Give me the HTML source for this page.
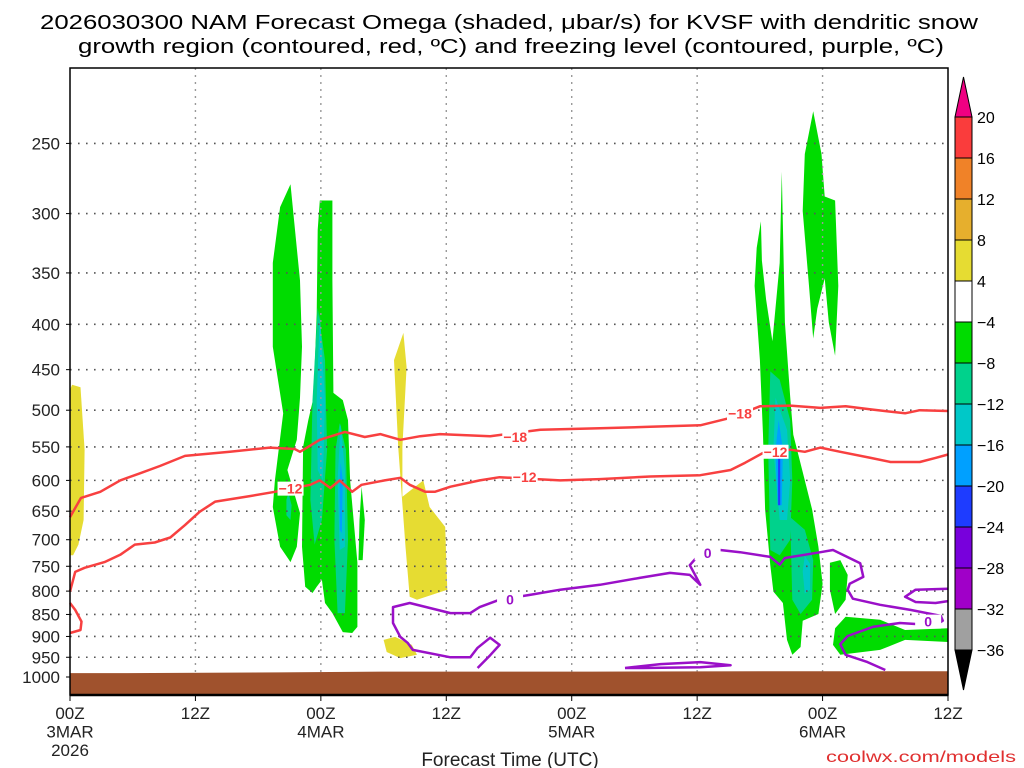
<!DOCTYPE html>
<html><head><meta charset="utf-8"><style>
html,body{margin:0;padding:0;background:#fff;}
svg{display:block;font-family:"Liberation Sans",sans-serif;}
</style></head><body>
<svg id="chart" width="1024" height="768" viewBox="0 0 1024 768" xmlns="http://www.w3.org/2000/svg">
<rect x="0" y="0" width="1024" height="768" fill="#fff"/>
<g font-size="20" fill="#000">
<text x="40" y="29" textLength="938" lengthAdjust="spacingAndGlyphs">2026030300 NAM Forecast Omega (shaded, μbar/s) for KVSF with dendritic snow</text>
<text x="78" y="53" textLength="866" lengthAdjust="spacingAndGlyphs">growth region (contoured, red, ºC) and freezing level (contoured, purple, ºC)</text>
</g>
<g id="shade"></g>
<g id="grid"></g>
<g id="terrain"></g>
<g id="contours"></g>
<rect x="70" y="68" width="878" height="627" fill="none" stroke="#000" stroke-width="1.5"/>
<line x1="70" y1="695" x2="948" y2="695" stroke="#000" stroke-width="2.5"/>
<g id="yaxis" font-size="17" fill="#222"></g>
<g id="xaxis" font-size="17" fill="#222"></g>
<text x="510" y="766" text-anchor="middle" font-size="19" fill="#222">Forecast Time (UTC)</text>
<text x="1016" y="762" text-anchor="end" font-size="16" fill="#e03030" textLength="190" lengthAdjust="spacingAndGlyphs">coolwx.com/models</text>
<g id="cbar" font-size="16" fill="#000"></g>
</svg>
<script>
const NS="http://www.w3.org/2000/svg";
const pressureTicks=[250,300,350,400,450,500,550,600,650,700,750,800,850,900,950,1000];
const timeTicks=[0,12,24,36,48,60,72,84];
const timeLabels1=["00Z","12Z","00Z","12Z","00Z","12Z","00Z","12Z"];
const timeLabels2=["3MAR","","4MAR","","5MAR","","6MAR",""];
const timeLabels3=["2026","","","","","","",""];
const cbarLevels=[20,16,12,8,4,-4,-8,-12,-16,-20,-24,-28,-32,-36];
const cbarColors=["#fa3c3c","#f08228","#e6af2d","#e6dc32","#ffffff","#00dc00","#00d28c","#00c8c8","#00a0ff","#1e3cff","#7800dc","#a000c8","#a0a0a0"];
const terrainP=[[0,990],[5,990],[20,988],[30,986],[50,986],[70,985],[84,985]];
const minus18=[[0,660],[1.05,628],[2.9,618],[4.8,600],[6.7,589],[8.6,578],[11,563],[15.3,557],[19.1,551],[21.5,553],[22,557],[23.9,540],[26.3,529],[28.2,536],[29.7,532],[31.6,540],[33.5,535],[35.4,532],[40.2,535],[45,526],[50.7,524],[55.5,522],[60.3,520],[63.2,510],[66,495],[68.9,494],[71.8,497],[74.2,495],[76.6,499],[79.9,504],[81.3,500],[84,501]];
const minus12=[[0,801],[0.5,761],[1.4,753],[3.3,742],[4.8,728],[6.2,709],[8.1,705],[9.6,696],[11,674],[12.4,651],[13.9,634],[17.2,625],[19.6,618],[23,607],[23.9,600],[24.9,612],[25.8,600],[27,618],[27.9,607],[30.1,600],[31.6,596],[32.5,607],[34,618],[34.9,618],[36.4,610],[39.2,600],[41.1,595],[46.9,600],[50.7,598],[55.5,594],[60.3,592],[63.2,584],[64.6,573],[66.5,557],[68.9,554],[70.3,557],[71.8,551],[73.7,557],[76.6,566],[78.5,572],[81.3,572],[82.8,566],[84,561]];
const minus12b=[[0,825],[0.5,840],[1.1,866],[1,885],[0,892]];
const labels18=[[42.6,536],[64.1,504]];
const labels12=[[21.1,613],[43.5,595],[67.5,557]];
const freeze=[[39,977],[40.2,945],[41.1,920],[40.2,903],[39,927],[38.3,950],[36.4,950],[32.8,932],[32.3,915],[31.6,901],[30.9,869],[30.9,834],[32.5,825],[36.4,847],[38.3,847],[39.2,834],[41.1,818],[44,808],[46.9,797],[50.7,787],[54.5,773],[57.4,763],[59.3,767],[60.3,787],[59.8,767],[59.3,748],[60.3,725],[62.2,719],[64.1,723],[67,732],[67.9,747],[68.4,734],[71.8,723],[73,719],[75.6,744],[75.9,771],[74.6,785],[74.4,797],[74.9,816],[77.5,829],[80.4,840],[83.3,853],[83.5,864],[82.8,874],[79.4,869],[76.8,878],[74.4,899],[73.7,918],[74.2,944],[76.3,962],[78,982]];
const freezeB=[[84,795],[80.9,797],[79.9,812],[80.9,823],[82.8,825],[84,821]];
const freezeC=[[53.1,977],[56.5,967],[60.3,962],[63.2,970],[60.3,975],[54.8,977],[53.1,977]];
const labels0=[[42.1,818],[61,725],[82.1,866]];
// shaded omega regions [hour, hPa]
const greenL1=[[21.1,278],[22,357],[22.2,424],[22,484],[21.7,540],[20.8,584],[22,653],[21.7,713],[21.1,742],[20.1,713],[19.4,643],[19.6,600],[20.4,504],[19.4,424],[19.4,341],[20.1,295]];
const greenL2=[[24.1,290],[25.1,290],[25.1,357],[25.2,478],[26.1,487],[26.6,513],[26.8,600],[27.5,743],[27.5,878],[27,892],[26.1,890],[25.1,847],[24.4,825],[24.1,777],[23.6,791],[23.2,804],[22.5,791],[22.2,713],[22.3,550],[22.8,513],[23.3,484],[23.6,389],[23.7,313],[23.9,290]];
const greenSliver=[[27.9,610],[28.2,665],[28,738],[27.6,738],[27.7,665]];
const tealL1=[[20.9,620],[21.2,640],[21.1,665],[20.7,657],[20.7,631]];
const tealL2a=[[23.7,383],[24.4,439],[24.6,554],[24.1,665],[23.4,709],[23,631],[23.2,487]];
const tealL2b=[[25.8,517],[26.4,554],[26.6,700],[26.3,847],[25.6,847],[25.3,700],[25.4,554]];
const cyanL2a=[[23.9,389],[24.4,487],[24.2,600],[23.7,584],[23.6,487]];
const cyanL2b=[[25.9,517],[26.3,584],[26.3,713],[25.8,719],[25.6,600]];
const blueL2=[[25.9,573],[26.1,600],[26,688],[25.8,682],[25.8,600]];
const yellowY0=[[0.2,468],[1,471],[1.4,554],[1.3,665],[0.8,709],[0.3,729],[0,729],[0,474]];
const yellowY1=[[31.9,409],[32.2,447],[31.8,550],[31.8,626],[33.8,600],[34.4,643],[35.9,677],[36.1,797],[33.2,818],[32.5,812],[32.1,713],[31.4,550],[31,439]];
const yellowY2=[[30,908],[31.1,901],[32.7,920],[33.2,944],[31.6,952],[30.3,937]];
const greenR1=[[66.1,306],[65.7,328],[65.5,362],[66,439],[66.3,533],[66.5,647],[67,748],[67.3,801],[68.2,825],[68.6,908],[69.1,944],[69.9,925],[70.1,864],[71.6,849],[72,785],[71.6,713],[71,647],[70.1,587],[69.2,533],[68.9,483],[68.4,398],[68.1,269],[67.9,341],[67.2,418],[66.6,375],[66.2,339]];
const greenR2=[[71.1,230],[71.9,257],[72.2,287],[73.2,290],[73.5,362],[73.2,434],[72.6,398],[72.2,355],[71.5,384],[71.1,415],[70.7,362],[70.1,298],[70.3,257]];
const greenR3=[[72.7,743],[73.7,738],[74.4,767],[74.2,818],[73.2,849],[72.7,797]];
const greenR4=[[73.2,881],[74.2,855],[77.5,862],[79.9,885],[84,881],[84,913],[79.9,908],[77.5,932],[73.7,944],[73,920]];
const tealR1=[[67,452],[67.9,462],[68.9,513],[69.1,600],[68.9,700],[67.9,729],[67,719],[66.8,554]];
const tealR2=[[68.9,660],[70.3,682],[71.1,738],[71,818],[69.9,849],[69.1,818]];
const cyanR1=[[67.5,484],[68.6,526],[68.9,600],[68.6,665],[67.9,665],[67.3,554]];
const cyanR2=[[70.3,730],[70.8,745],[70.8,797],[70.3,805],[70.1,760]];
const blueR=[[67.8,513],[68.2,554],[68.1,640],[67.7,640],[67.5,554]];
const darkBlueR=[[67.75,560],[67.95,560],[67.95,640],[67.75,640]];

function xS(h){return 70+h*(878/84);}
function yS(p){return 677-384.9*Math.log(1000/p);}
function pts(arr){return arr.map(d=>xS(d[0]).toFixed(1)+","+yS(d[1]).toFixed(1)).join(" ");}
function mk(tag,attrs,parent){const e=document.createElementNS(NS,tag);for(const k in attrs)e.setAttribute(k,attrs[k]);parent.appendChild(e);return e;}

const shade=document.getElementById("shade");
function poly(arr,color,name){
  const e=mk("polygon",{points:pts(arr),fill:color},shade);
  
  
}
poly(yellowY0,"#e6dc32","yellow-region-left");
poly(yellowY1,"#e6dc32","yellow-region-mid");
poly(yellowY2,"#e6dc32","yellow-region-low");
poly(greenL1,"#00dc00","green-region-l1");
poly(greenL2,"#00dc00","green-region-l2");
poly(greenSliver,"#00dc00","green-region-sliver");
poly(tealL1,"#00d28c","teal-region-l1");
poly(tealL2a,"#00d28c","teal-region-l2a");
poly(tealL2b,"#00d28c","teal-region-l2b");
poly(cyanL2a,"#00c8c8","cyan-region-l2a");
poly(cyanL2b,"#00c8c8","cyan-region-l2b");
poly(blueL2,"#00a0ff","blue-region-l2");
poly(greenR1,"#00dc00","green-region-r1");
poly(greenR2,"#00dc00","green-region-r2");
poly(greenR3,"#00dc00","green-region-r3");
poly(greenR4,"#00dc00","green-region-r4");
poly(tealR1,"#00d28c","teal-region-r1");
poly(tealR2,"#00d28c","teal-region-r2");
poly(cyanR1,"#00c8c8","cyan-region-r1");
poly(cyanR2,"#00c8c8","cyan-region-r2");
poly(blueR,"#00a0ff","blue-region-r");
poly(darkBlueR,"#1e3cff","darkblue-region-r");

// grid
const grid=document.getElementById("grid");
pressureTicks.forEach(p=>{
  const l=mk("line",{x1:70,x2:948,y1:yS(p),y2:yS(p),stroke:"#555","stroke-width":1.6,"stroke-dasharray":"1.6 6.4"},grid);
  
  
});
timeTicks.slice(1,-1).forEach(h=>{
  const l=mk("line",{x1:xS(h),x2:xS(h),y1:68,y2:695,stroke:"#999","stroke-width":1.4,"stroke-dasharray":"2 5"},grid);
  
  
});

// terrain
const terr=document.getElementById("terrain");
const tp=terrainP.map(d=>xS(d[0]).toFixed(1)+","+yS(d[1]).toFixed(1));
const te=mk("polygon",{points:tp.join(" ")+" 948,695 70,695",fill:"#a0522d"},terr);



// contours
const cont=document.getElementById("contours");
function line(arr,color,name){
  const e=mk("polyline",{points:pts(arr),fill:"none",stroke:color,"stroke-width":2.5,"stroke-linejoin":"round"},cont);
  
  
}
function lab(arr,txt,color,name){
  arr.forEach(d=>{
    const x=xS(d[0]),y=yS(d[1]);
    const r=mk("rect",{x:x-13,y:y-7,width:26,height:14,fill:"#fff"},cont);
    const t=mk("text",{x:x,y:y+5,"text-anchor":"middle","font-size":14,"font-weight":"bold",fill:color},cont);
    t.textContent=txt;
    
    
  });
}
line(minus18,"#f84040","contour-minus18");
line(minus12,"#f84040","contour-minus12");
line(minus12b,"#f84040","contour-minus12-left");
line(freeze,"#9a10c8","freezing-level-contour");
line(freezeB,"#9a10c8","freezing-level-contour-east");
line(freezeC,"#9a10c8","freezing-level-contour-surface");
lab(labels18,"−18","#f84040","contour-label-minus18");
lab(labels12,"−12","#f84040","contour-label-minus12");
lab(labels0,"0","#9a10c8","contour-label-zero");

// y axis
const ya=document.getElementById("yaxis");
pressureTicks.forEach(p=>{
  const t=mk("text",{x:60,y:yS(p)+6,"text-anchor":"end"},ya);
  t.textContent=p;
  
  
  mk("line",{x1:66,x2:70,y1:yS(p),y2:yS(p),stroke:"#000","stroke-width":1},ya);
});
// x axis
const xa=document.getElementById("xaxis");
timeTicks.forEach((h,i)=>{
  const x=xS(h);
  mk("line",{x1:x,x2:x,y1:695,y2:701,stroke:"#000","stroke-width":1},xa);
  [timeLabels1[i],timeLabels2[i],timeLabels3[i]].forEach((s,j)=>{
    if(!s)return;
    const t=mk("text",{x:x,y:719+j*18.5,"text-anchor":"middle"},xa);
    t.textContent=s;
    
    
  });
});

// colorbar
const cb=document.getElementById("cbar");
const cx0=955,cw=17,cTop=117,cStep=41;
const ta=mk("polygon",{points:`${cx0},${cTop} ${cx0+cw},${cTop} ${cx0+cw/2},77`,fill:"#f00082",stroke:"#000"},cb);


cbarColors.forEach((c,i)=>{
  const r=mk("rect",{x:cx0,y:cTop+i*cStep,width:cw,height:cStep,fill:c,stroke:"#000","stroke-width":1},cb);
  
  
});
const ba=mk("polygon",{points:`${cx0},${cTop+cbarColors.length*cStep} ${cx0+cw},${cTop+cbarColors.length*cStep} ${cx0+cw/2},690`,fill:"#000",stroke:"#000"},cb);


cbarLevels.forEach((v,i)=>{
  const t=mk("text",{x:977,y:cTop+i*cStep+6},cb);
  t.textContent=v<0?"−"+Math.abs(v):String(v);
  
  
});
</script>
</body></html>
